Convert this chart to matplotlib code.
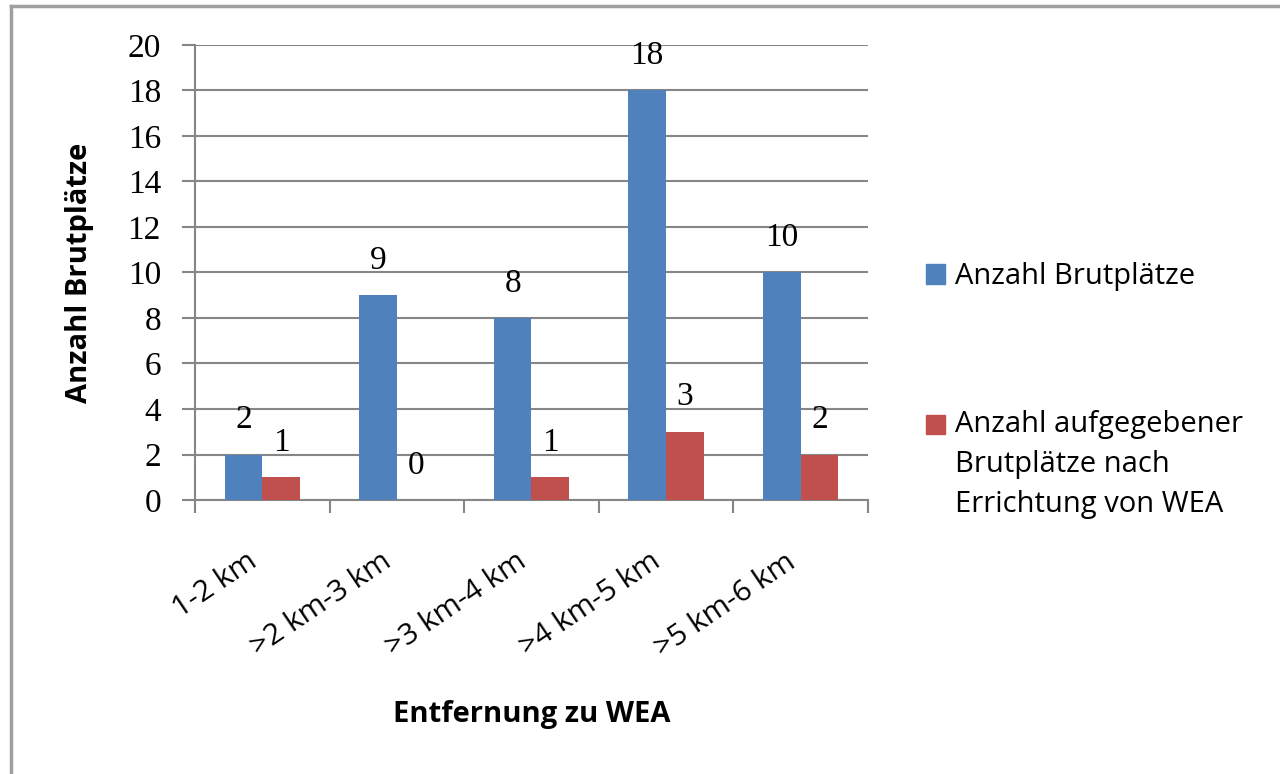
import numpy as np
import matplotlib
matplotlib.use('Agg')
import matplotlib.pyplot as plt
from matplotlib.patches import Rectangle
from matplotlib.lines import Line2D

# Daten
kategorien = ['1-2 km', '>2 km-3 km', '>3 km-4 km', '>4 km-5 km', '>5 km-6 km']
brutplaetze = [2, 9, 8, 18, 10]
aufgegeben = [1, 0, 1, 3, 2]
serien = ['Anzahl Brutplätze', 'Anzahl aufgegebener\nBrutplätze nach\nErrichtung von WEA']
farben = ['#4F81BD', '#C0504D']
y_ticks = list(range(0, 21, 2))

sans = ['Open Sans', 'DejaVu Sans']
serif = ['Liberation Serif', 'DejaVu Serif']
grau = '#868686'

fig = plt.figure(figsize=(12.8, 7.74), dpi=100)
ax = fig.add_axes([0.1523, 0.354, 0.5258, 0.5879])

x = np.arange(len(kategorien))
w = 0.28
b1 = ax.bar(x - w / 2, brutplaetze, w, color=farben[0], zorder=3)
b2 = ax.bar(x + w / 2, aufgegeben, w, color=farben[1], zorder=3)

for bars, vals in [(b1, brutplaetze), (b2, aufgegeben)]:
    for r, v in zip(bars, vals):
        ax.annotate(str(v), (r.get_x() + r.get_width() / 2, v), xytext=(0, 14),
                    textcoords='offset points', ha='center', va='bottom',
                    fontsize=24, family=serif)

ax.set_xlim(-0.5, len(kategorien) - 0.5)
ax.set_ylim(0, 20)
ax.set_yticks(y_ticks)
ax.set_yticklabels([str(t) for t in y_ticks], family=serif, fontsize=24)
ax.yaxis.grid(True, color=grau, linewidth=1.5, zorder=0)
ax.tick_params(axis='y', length=9.5, width=1.5, color=grau, pad=15)

ax.set_xticks(x)
ax.set_xticklabels(kategorien, rotation=34, ha='right', family=sans, fontsize=21.5)
ax.tick_params(axis='x', which='major', length=0, pad=34)
ax.set_xticks(np.arange(-0.5, len(kategorien)), minor=True)
ax.tick_params(axis='x', which='minor', length=9, width=1.5, color=grau)

for s in ['top', 'right']:
    ax.spines[s].set_visible(False)
for s in ['left', 'bottom']:
    ax.spines[s].set_color(grau)
    ax.spines[s].set_linewidth(1.5)

ax.set_xlabel('Entfernung zu WEA', family=sans, fontsize=21, fontweight='bold')
ax.set_ylabel('Anzahl Brutplätze', family=sans, fontsize=21, fontweight='bold')
ax.xaxis.set_label_coords(0.5, -0.44)
ax.yaxis.set_label_coords(-0.15, 0.5)

# Legende
for farbe, yy in zip(farben, [0.646, 0.452]):
    fig.patches.append(Rectangle((0.7234, yy - 0.0123), 0.0148, 0.0246, color=farbe,
                                 transform=fig.transFigure))
fig.text(0.746, 0.643, serien[0], family=sans, fontsize=21, va='center', ha='left')
fig.text(0.746, 0.452 + 0.018, serien[1], family=sans, fontsize=21, va='top', ha='left',
         linespacing=1.5)

# Rahmen
fig.lines.append(Line2D([0.0086, 0.0086], [0, 0.992], color='#A0A0A0', lw=2.5,
                        transform=fig.transFigure))
fig.lines.append(Line2D([0.0086, 1], [0.992, 0.992], color='#A0A0A0', lw=2.5,
                        transform=fig.transFigure))

fig.savefig('out.png', dpi=100)
